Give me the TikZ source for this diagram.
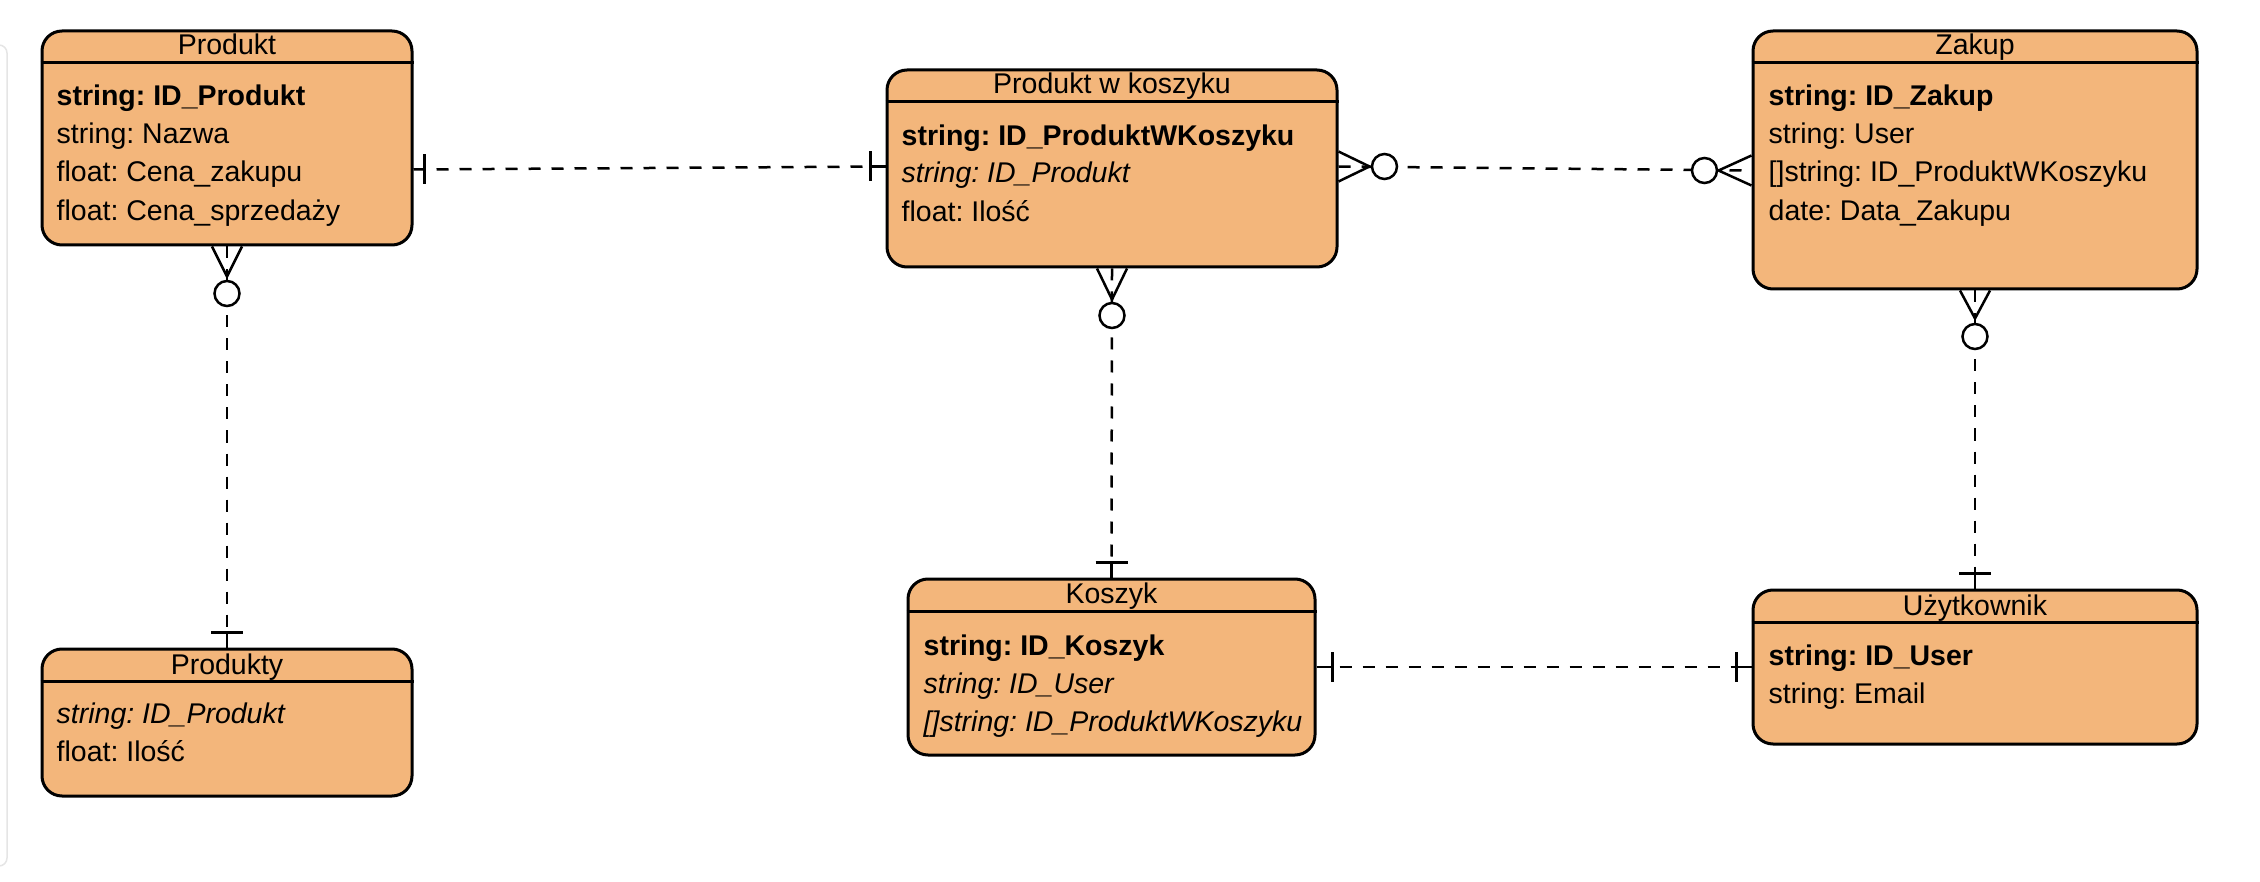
\documentclass[tikz,border=0pt]{standalone}
\usepackage{fontspec}
\setmainfont{Liberation Sans}
\usetikzlibrary{calc}
\definecolor{entfill}{RGB}{243,182,123}
\frenchspacing
\begin{document}
\begin{tikzpicture}[x=1pt,y=-1pt,
  entity/.style={draw=black, line width=3pt, fill=entfill, rounded corners=20pt, inner sep=0pt},
  hdr/.style={line width=3pt},
  ttl/.style={anchor=base, inner sep=0pt, font=\fontsize{28.5}{34}\selectfont\frenchspacing},
  attr/.style={anchor=base west, inner sep=0pt, font=\fontsize{28.5}{34}\selectfont\frenchspacing},
  rel/.style={line width=2.5pt, dash pattern=on 12pt off 11pt},
  cf/.style={line width=2.5pt},
  zcirc/.style={circle, draw=black, line width=2.5pt, fill=white, minimum size=25pt, inner sep=0pt}
]
\useasboundingbox (0,0) rectangle (2260,882);
\draw[black!10, line width=1.5pt, rounded corners=8pt] (-20,45) -- (7,45) -- (7,866) -- (-20,866);

% ---------- entities ----------
\node[entity, minimum width=370pt, minimum height=214pt] (prod) at (227,138) {};
\draw[hdr] ($(prod.north west)+(0,33)$) -- ($(prod.north east)+(0,33)$);
\node[ttl] (prodT) at ($(prod.north)+(0,25.5)$) {Produkt};
\node[attr] (prodA1) at ($(prod.north west)+(16,76)$) {\textbf{string: ID\_Produkt}};
\node[attr] (prodA2) at ($(prod.north west)+(16,114)$) {string: Nazwa};
\node[attr] (prodA3) at ($(prod.north west)+(16,152.5)$) {float: Cena\_zakupu};
\node[attr] (prodA4) at ($(prod.north west)+(16,191)$) {float: Cena\_sprzedaży};

\node[entity, minimum width=370pt, minimum height=147pt] (prty) at (227,722.5) {};
\draw[hdr] ($(prty.north west)+(0,34)$) -- ($(prty.north east)+(0,34)$);
\node[ttl] (prtyT) at ($(prty.north)+(0,26.5)$) {Produkty};
\node[attr] (prtyA1) at ($(prty.north west)+(16,76)$) {\textit{string: ID\_Produkt}};
\node[attr] (prtyA2) at ($(prty.north west)+(16,114)$) {float: Ilość};

\node[entity, minimum width=450pt, minimum height=197pt] (pwk) at (1112,168.5) {};
\draw[hdr] ($(pwk.north west)+(0,33)$) -- ($(pwk.north east)+(0,33)$);
\node[ttl] (pwkT) at ($(pwk.north)+(0,25.5)$) {Produkt w koszyku};
\node[attr] (pwkA1) at ($(pwk.north west)+(16,77)$) {\textbf{string: ID\_ProduktWKoszyku}};
\node[attr] (pwkA2) at ($(pwk.north west)+(16,114.5)$) {\textit{string: ID\_Produkt}};
\node[attr] (pwkA3) at ($(pwk.north west)+(16,153)$) {float: Ilość};

\node[entity, minimum width=407pt, minimum height=176pt] (kosz) at (1111.5,667) {};
\draw[hdr] ($(kosz.north west)+(0,34)$) -- ($(kosz.north east)+(0,34)$);
\node[ttl] (koszT) at ($(kosz.north)+(0,26)$) {Koszyk};
\node[attr] (koszA1) at ($(kosz.north west)+(17,78)$) {\textbf{string: ID\_Koszyk}};
\node[attr] (koszA2) at ($(kosz.north west)+(17,116)$) {\textit{string: ID\_User}};
\node[attr] (koszA3) at ($(kosz.north west)+(17,154)$) {\textit{[]string: ID\_ProduktWKoszyku}};

\node[entity, minimum width=444pt, minimum height=258pt] (zak) at (1975,160) {};
\draw[hdr] ($(zak.north west)+(0,33)$) -- ($(zak.north east)+(0,33)$);
\node[ttl] (zakT) at ($(zak.north)+(0,25.5)$) {Zakup};
\node[attr] (zakA1) at ($(zak.north west)+(17,76)$) {\textbf{string: ID\_Zakup}};
\node[attr] (zakA2) at ($(zak.north west)+(17,114)$) {string: User};
\node[attr] (zakA3) at ($(zak.north west)+(17,152.5)$) {[]string: ID\_ProduktWKoszyku};
\node[attr] (zakA4) at ($(zak.north west)+(17,191)$) {date: Data\_Zakupu};

\node[entity, minimum width=444pt, minimum height=154pt] (uzyt) at (1975,667) {};
\draw[hdr] ($(uzyt.north west)+(0,34)$) -- ($(uzyt.north east)+(0,34)$);
\node[ttl] (uzytT) at ($(uzyt.north)+(0,26.5)$) {Użytkownik};
\node[attr] (uzytA1) at ($(uzyt.north west)+(17,77)$) {\textbf{string: ID\_User}};
\node[attr] (uzytA2) at ($(uzyt.north west)+(17,115)$) {string: Email};

% ---------- connector points ----------
\coordinate (c1a) at ($(prod.north east)+(0,140)$);
\coordinate (c1b) at ($(pwk.north west)+(0,98)$);
\coordinate (c2a) at ($(pwk.north east)+(0,98)$);
\coordinate (c2b) at ($(zak.north west)+(0,141)$);

% Produkt -- Produkt w koszyku (one to one)
\draw[rel] (c1a) -- (c1b);
\draw[cf] ($(c1a)+(11,-15)$) -- ($(c1a)+(11,15)$);
\draw[cf] ($(c1b)+(-15,-15)$) -- ($(c1b)+(-15,15)$);
\draw[cf] ($(c1b)+(-15,0)$) -- (c1b);

% Produkt w koszyku -- Zakup (zero-or-many both ends)
\draw[rel] (c2a) -- (c2b);
\draw[cf] ($(c2a)+(0,-15)$) -- ($(c2a)+(31,0)$) -- ($(c2a)+(0,15)$);
\node[zcirc] (o2a) at ($(c2a)+(46,0)$) {};
\draw[cf] ($(c2b)+(0,-15)$) -- ($(c2b)+(-33,0)$) -- ($(c2b)+(0,15)$);
\node[zcirc] (o2b) at ($(c2b)+(-47,0)$) {};

% Produkt w koszyku -- Koszyk
\draw[rel] (pwk.south) -- (kosz.north);
\draw[cf] ($(pwk.south)+(-15,0)$) -- ($(pwk.south)+(0,31)$) -- ($(pwk.south)+(15,0)$);
\node[zcirc] (o3) at ($(pwk.south)+(0,47)$) {};
\draw[cf] ($(kosz.north)+(-16,-15)$) -- ($(kosz.north)+(16,-15)$);
\draw[cf] ($(kosz.north)+(0,-15)$) -- (kosz.north);

% Produkt -- Produkty
\draw[rel] (prod.south) -- (prty.north);
\draw[cf] ($(prod.south)+(-15,0)$) -- ($(prod.south)+(0,30)$) -- ($(prod.south)+(15,0)$);
\node[zcirc] (o4) at ($(prod.south)+(0,47)$) {};
\draw[cf] ($(prty.north)+(-16,-15)$) -- ($(prty.north)+(16,-15)$);
\draw[cf] ($(prty.north)+(0,-15)$) -- (prty.north);

% Zakup -- Uzytkownik
\draw[rel] (zak.south) -- (uzyt.north);
\draw[cf] ($(zak.south)+(-15,0)$) -- ($(zak.south)+(0,28)$) -- ($(zak.south)+(15,0)$);
\node[zcirc] (o5) at ($(zak.south)+(0,46)$) {};
\draw[cf] ($(uzyt.north)+(-16,-15)$) -- ($(uzyt.north)+(16,-15)$);
\draw[cf] ($(uzyt.north)+(0,-15)$) -- (uzyt.north);

% Koszyk -- Uzytkownik
\draw[rel] (kosz.east) -- (uzyt.west);
\draw[cf] ($(kosz.east)+(16,-15)$) -- ($(kosz.east)+(16,15)$);
\draw[cf] (kosz.east) -- ($(kosz.east)+(16,0)$);
\draw[cf] ($(uzyt.west)+(-15,-15)$) -- ($(uzyt.west)+(-15,15)$);
\draw[cf] ($(uzyt.west)+(-15,0)$) -- (uzyt.west);
\end{tikzpicture}
\end{document}
